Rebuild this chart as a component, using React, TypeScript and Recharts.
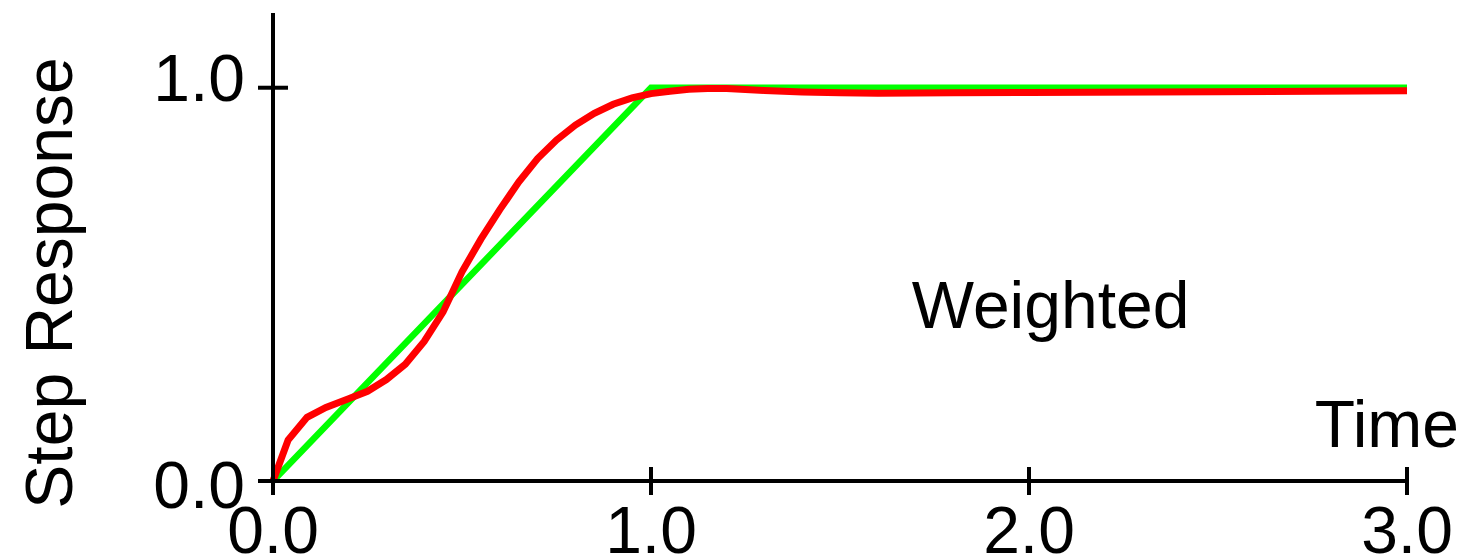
import React from 'react';
import { LineChart, Line, XAxis, YAxis, ReferenceDot } from 'recharts';

// ---- data ----
const idealTimes = [0, 1, 3];
const idealResponse = [0, 1, 1];

const weightedTimes = [
  0, 0.04, 0.09, 0.14, 0.2, 0.25, 0.3, 0.35, 0.4, 0.45, 0.5, 0.55, 0.6, 0.65, 0.7, 0.75,
  0.8, 0.85, 0.9, 0.95, 1.0, 1.05, 1.1, 1.15, 1.2, 1.3, 1.4, 1.5, 1.6, 1.8, 2.0, 2.5, 3.0,
];
const weightedResponse = [
  0, 0.104, 0.162, 0.187, 0.209, 0.228, 0.258, 0.297, 0.355, 0.43, 0.532, 0.615, 0.69, 0.76, 0.82, 0.867,
  0.905, 0.935, 0.958, 0.974, 0.985, 0.991, 0.996, 0.998, 0.998, 0.993, 0.989, 0.987, 0.986, 0.987, 0.988, 0.99, 0.992,
];

const xTicks = [0, 1, 2, 3];
const yTicks = [0, 1];
const xLabel = 'Time';
const yLabel = 'Step Response';
const annotation = 'Weighted';
const annotationAt = { t: 1.69, v: 0.39 };

const idealData = idealTimes.map((t, i) => ({ t, v: idealResponse[i] }));
const weightedData = weightedTimes.map((t, i) => ({ t, v: weightedResponse[i] }));

const FONT = '"Liberation Sans", Arial, Helvetica, sans-serif';
const FS = 66;
const AXIS_W = 4;

const XTick = (props: any) => {
  const { x, y, payload } = props;
  return (
    <g>
      <line x1={x} y1={y - 14} x2={x} y2={y + 14} stroke="#000" strokeWidth={AXIS_W} />
      <text x={x} y={y + 72} textAnchor="middle" fontSize={FS} fontFamily={FONT} fill="#000">
        {Number(payload.value).toFixed(1)}
      </text>
    </g>
  );
};

const YTick = (props: any) => {
  const { x, y, payload } = props;
  const shift = payload.value === 0 ? 27 : 13;
  return (
    <g>
      <line x1={x - 15} y1={y} x2={x + 15} y2={y} stroke="#000" strokeWidth={AXIS_W} />
      <text x={x - 28} y={y + shift} textAnchor="end" fontSize={FS} fontFamily={FONT} fill="#000">
        {Number(payload.value).toFixed(1)}
      </text>
    </g>
  );
};

const renderXLabel = (props: any) => {
  const vb = props && props.viewBox ? props.viewBox : { x: 273, y: 481, width: 1134, height: 78 };
  return (
    <text x={vb.x + vb.width + 52} y={vb.y - 34} textAnchor="end" fontSize={FS} fontFamily={FONT} fill="#000">
      {xLabel}
    </text>
  );
};

const renderYLabel = (props: any) => {
  const vb = props && props.viewBox ? props.viewBox : { x: 0, y: 13, width: 273, height: 468 };
  const cx = 72;
  const cy = vb.y + vb.height / 2 + 36;
  return (
    <text
      x={cx}
      y={cy}
      textAnchor="middle"
      fontSize={FS}
      fontFamily={FONT}
      fill="#000"
      transform={`rotate(-90, ${cx}, ${cy})`}
    >
      {yLabel}
    </text>
  );
};

const renderAnnotation = (props: any) => {
  const vb = props && props.viewBox ? props.viewBox : { x: 0, y: 0 };
  return (
    <text x={vb.x} y={vb.y} textAnchor="start" fontSize={FS} fontFamily={FONT} fill="#000">
      {annotation}
    </text>
  );
};

export default function App() {
  return (
    <div style={{ position: 'absolute', left: 0, top: 0, background: '#fff' }}>
      <LineChart width={1468} height={559} margin={{ top: 13, right: 61, bottom: 0, left: 0 }}>
        <XAxis
          type="number"
          dataKey="t"
          domain={[0, 3]}
          ticks={xTicks}
          interval={0}
          height={78}
          tickSize={0}
          tickMargin={0}
          tickLine={false}
          axisLine={{ stroke: '#000', strokeWidth: AXIS_W }}
          tick={<XTick />}
          label={renderXLabel}
        />
        <YAxis
          type="number"
          dataKey="v"
          domain={[0, 1.19]}
          ticks={yTicks}
          interval={0}
          width={273}
          tickSize={0}
          tickMargin={0}
          tickLine={false}
          axisLine={{ stroke: '#000', strokeWidth: AXIS_W }}
          tick={<YTick />}
          label={renderYLabel}
        />
        <Line
          data={idealData}
          dataKey="v"
          type="linear"
          stroke="#00ff00"
          strokeWidth={6.5}
          dot={false}
          activeDot={false}
          isAnimationActive={false}
        />
        <Line
          data={weightedData}
          dataKey="v"
          type="linear"
          stroke="#ff0000"
          strokeWidth={7}
          dot={false}
          activeDot={false}
          isAnimationActive={false}
        />
        <ReferenceDot
          x={annotationAt.t}
          y={annotationAt.v}
          r={0}
          fill="none"
          stroke="none"
          label={renderAnnotation}
        />
      </LineChart>
    </div>
  );
}
